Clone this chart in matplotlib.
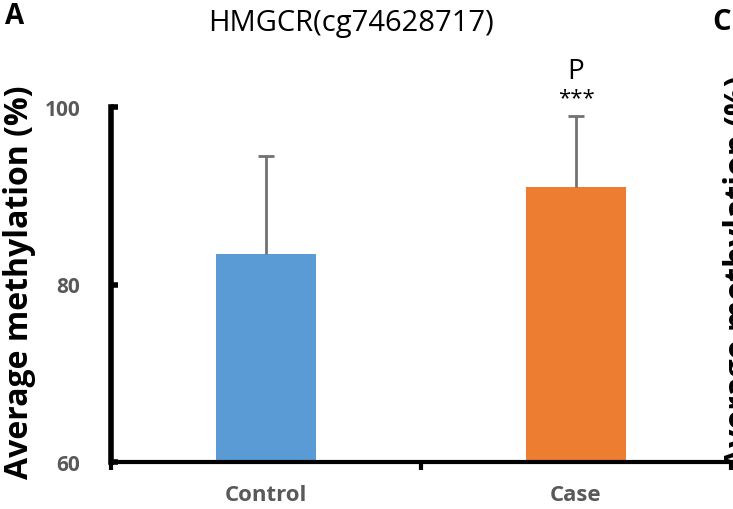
import numpy as np
import matplotlib
matplotlib.use("Agg")
import matplotlib.pyplot as plt

# 数据
categories = ["Control", "Case"]
means = [83.4, 91.0]
err_up = [11.1, 8.0]
bar_colors = ["#5B9BD5", "#ED7D31"]
title = "HMGCR(cg74628717)"
ylabel = "Average methylation (%)"
yticks = [60, 80, 100]

plt.rcParams['font.family'] = ["Open Sans", "DejaVu Sans"]

W, H = 733, 510
fig = plt.figure(figsize=(W / 100, H / 100), dpi=100)
# 坐标轴位置 (像素换算)
ax = fig.add_axes([111 / W, 47 / H, (731 - 111) / W, (463 - 108) / H])

x = np.arange(len(categories))
tops = np.array(means) + np.array(err_up)
ax.bar(x, means, width=0.32, color=bar_colors, zorder=2)
# 只画向上的误差棒
ax.vlines(x, means, tops, color="#767171", linewidth=2, zorder=3)
ax.hlines(tops, x - 0.025, x + 0.025, color="#767171", linewidth=2, zorder=3)

ax.set_xlim(-0.5, 1.5)
ax.set_ylim(60, 100)
ax.set_yticks(yticks)
ax.set_yticklabels([str(v) for v in yticks], fontsize=15, fontweight="bold", color="#595959")
ax.set_xticks(x)
ax.set_xticklabels(categories, fontsize=16, fontweight="bold", color="#595959")
ax.tick_params(axis="x", which="major", length=0, pad=16)
ax.set_xticks([-0.5, 0.5, 1.5], minor=True)
ax.tick_params(axis="x", which="minor", length=6, width=3, direction="out")
ax.tick_params(axis="y", which="major", length=5, width=4, direction="in", pad=22)

for s in ["top", "right"]:
    ax.spines[s].set_visible(False)
ax.spines["left"].set_linewidth(4)
ax.spines["bottom"].set_linewidth(3)

# 标注
ax.text(1, 101.0, "***", ha="center", va="center", fontsize=16)
ax.text(1, 104.1, "P", ha="center", va="center", fontsize=20)

fig.text(351 / W, 1 - 24 / H, title, ha="center", va="center", fontsize=21)
fig.text(20 / W, 1 - 282 / H, ylabel, ha="center", va="center", rotation=90,
         fontsize=23, fontweight="bold")
fig.text(15 / W, 1 - 17 / H, "A", ha="center", va="center", fontsize=20, fontweight="bold")
fig.text(722 / W, 1 - 23 / H, "C", ha="center", va="center", fontsize=21, fontweight="bold")
# 右侧 C 图的y轴标签 (被裁切)
fig.text(739 / W, 1 - 272 / H, ylabel, ha="center", va="center", rotation=90,
         fontsize=23, fontweight="bold")

fig.savefig("out.png", dpi=100)
